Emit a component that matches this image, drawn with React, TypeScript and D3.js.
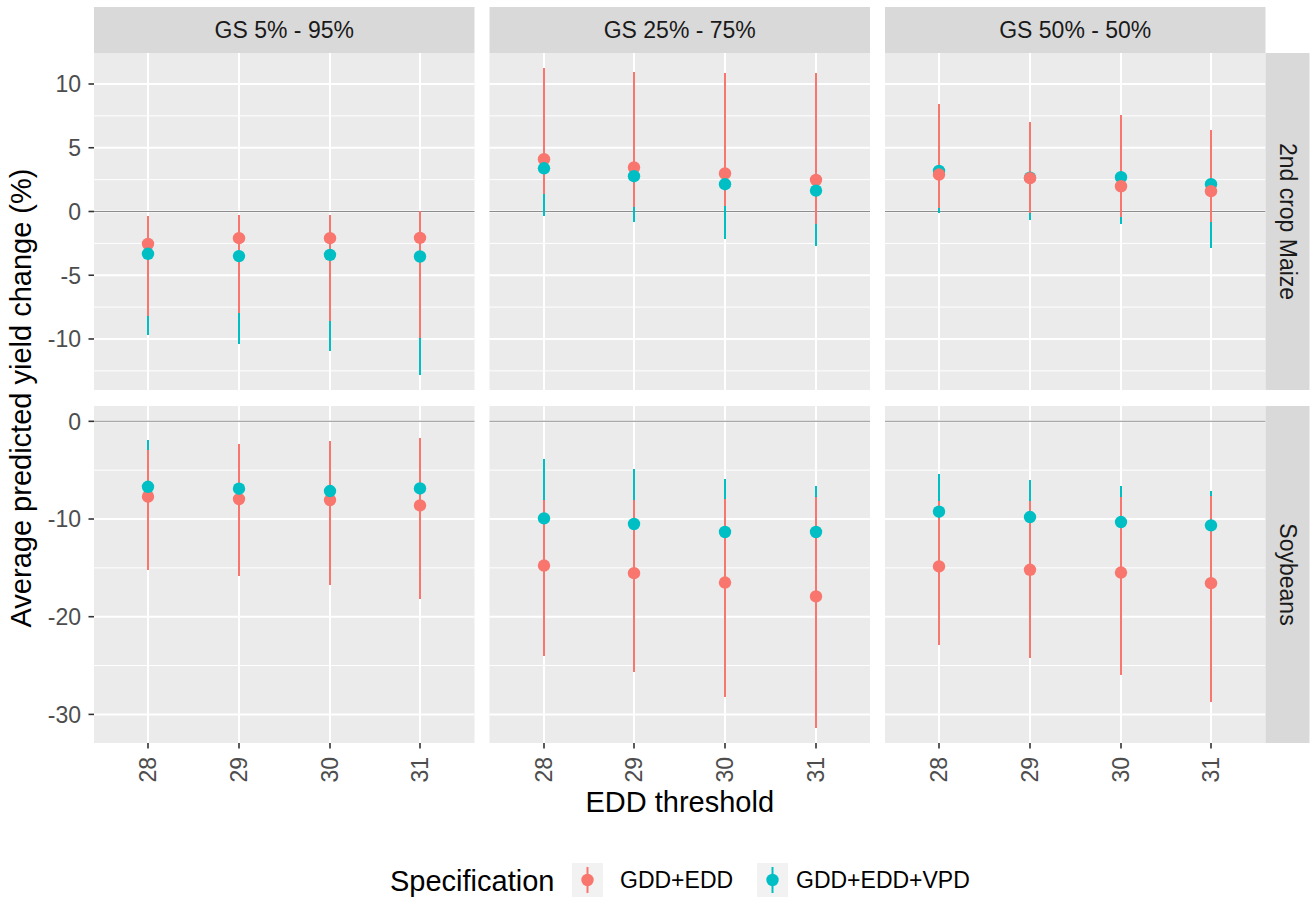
import React from "react";
import * as d3 from "d3";

// ---------- data ----------
const gsLevels = ["GS 5% - 95%", "GS 25% - 75%", "GS 50% - 50%"];
const crops = ["2nd crop Maize", "Soybeans"];
const thresholds = ["28", "29", "30", "31"];
const specs = ["GDD+EDD", "GDD+EDD+VPD"];
const specColors = ["#F8766D", "#00BFC4"];

// each: rows = GS levels, cols = thresholds
const maizeEddEst = [[-2.54, -2.09, -2.09, -2.07], [4.1, 3.45, 2.98, 2.48], [2.9, 2.61, 1.98, 1.59]];
const maizeEddLo = [[-8.18, -7.97, -8.57, -9.96], [1.36, 0.36, 0.4, -1.0], [0.31, -0.08, -0.47, -0.79]];
const maizeEddHi = [[-0.34, -0.27, -0.27, 0.0], [11.23, 10.97, 10.89, 10.89], [8.46, 7.05, 7.57, 6.37]];

const maizeVpdEst = [[-3.32, -3.5, -3.4, -3.53], [3.39, 2.77, 2.14, 1.64], [3.18, 2.65, 2.69, 2.14]];
const maizeVpdLo = [[-9.69, -10.37, -10.92, -12.8], [-0.34, -0.79, -2.12, -2.69], [-0.08, -0.68, -1.0, -2.88]];
const maizeVpdHi = [[-0.5, -0.5, -0.5, -0.3], [9.0, 8.5, 8.0, 7.5], [7.5, 6.5, 7.0, 6.0]];

const soyEddEst = [[-7.72, -7.96, -8.06, -8.61], [-14.76, -15.54, -16.5, -17.93], [-14.86, -15.2, -15.48, -16.57]];
const soyEddLo = [[-15.2, -15.88, -16.73, -18.2], [-24.05, -25.68, -28.2, -31.36], [-22.86, -24.22, -25.92, -28.74]];
const soyEddHi = [[-2.96, -2.28, -2.01, -1.7], [-8.06, -8.06, -7.99, -7.72], [-8.16, -8.16, -7.72, -7.65]];

const soyVpdEst = [[-6.7, -6.9, -7.14, -6.87], [-9.93, -10.51, -11.33, -11.33], [-9.25, -9.8, -10.31, -10.65]];
const soyVpdLo = [[-11.5, -11.8, -12.3, -12.0], [-16.0, -16.8, -17.5, -17.0], [-13.1, -13.6, -14.0, -14.2]];
const soyVpdHi = [[-1.94, -2.5, -2.4, -2.0], [-3.81, -4.9, -5.92, -6.6], [-5.41, -6.02, -6.67, -7.14]];

const yTicksMaize = [-10, -5, 0, 5, 10];
const yTicksSoy = [-30, -20, -10, 0];

// which specification's points are drawn last in each GS column
const pointOnTop = ["GDD+EDD+VPD", "GDD+EDD+VPD", "GDD+EDD"];

const tables = [
  [
    { est: maizeEddEst, lo: maizeEddLo, hi: maizeEddHi },
    { est: maizeVpdEst, lo: maizeVpdLo, hi: maizeVpdHi },
  ],
  [
    { est: soyEddEst, lo: soyEddLo, hi: soyEddHi },
    { est: soyVpdEst, lo: soyVpdLo, hi: soyVpdHi },
  ],
];
const yTicks = [yTicksMaize, yTicksSoy];

// ---------- layout ----------
const W = 1313;
const H = 897;
const FONT = "'Liberation Sans', Arial, sans-serif";
const panelLeft = 94;
const panelW = 380.5;
const panelGapX = 15;
const panelTop = 53;
const panelH = 337;
const panelGapY = 16;
const stripTop = 7;
const stripRightW = 44;

function rowDomain(r: number): [number, number] {
  const all: number[] = [0];
  tables[r].forEach((t) => {
    [t.lo, t.hi, t.est].forEach((m) => m.forEach((row) => row.forEach((v) => all.push(v))));
  });
  const mn = d3.min(all)!;
  const mx = d3.max(all)!;
  const pad = (mx - mn) * 0.05;
  return [mn - pad, mx + pad];
}

export default function App() {
  const xInner = d3
    .scalePoint<string>()
    .domain(thresholds)
    .range([0, panelW])
    .padding(0.6);

  const yScales = [0, 1].map((r) => {
    const top = panelTop + r * (panelH + panelGapY);
    return d3.scaleLinear().domain(rowDomain(r)).range([top + panelH, top]);
  });

  const panels: React.ReactNode[] = [];

  crops.forEach((crop, r) => {
    const y = yScales[r];
    const top = panelTop + r * (panelH + panelGapY);
    const ticks = yTicks[r];
    const [d0, d1] = y.domain();
    const minors: number[] = [];
    const step = ticks[1] - ticks[0];
    for (let v = ticks[0] - step / 2; v <= d1; v += step) {
      if (v >= d0 && v <= d1 && !ticks.includes(v)) minors.push(v);
    }
    gsLevels.forEach((gs, c) => {
      const left = panelLeft + c * (panelW + panelGapX);
      const x = (t: string) => left + (xInner(t) as number);
      const xr = (t: string) => Math.round(x(t));
      const order = pointOnTop[c] === specs[0] ? [1, 0] : [0, 1];
      panels.push(
        <g key={`p-${r}-${c}`}>
          <rect x={left} y={top} width={panelW} height={panelH} fill="#EBEBEB" />
          {minors.map((v) => (
            <line key={`mi${v}`} x1={left} x2={left + panelW} y1={y(v)} y2={y(v)} stroke="#fff" strokeWidth={1} />
          ))}
          {ticks.map((v) => (
            <line key={`ma${v}`} x1={left} x2={left + panelW} y1={y(v)} y2={y(v)} stroke="#fff" strokeWidth={2} />
          ))}
          {thresholds.map((t) => (
            <line key={`vx${t}`} x1={xr(t)} x2={xr(t)} y1={top} y2={top + panelH} stroke="#fff" strokeWidth={2} />
          ))}
          <line x1={left} x2={left + panelW} y1={y(0)} y2={y(0)} stroke="#8C8C8C" strokeWidth={1.1} />
          {[1, 0].map((s) =>
            thresholds.map((t, i) => (
              <line
                key={`l${s}${t}`}
                x1={xr(t)}
                x2={xr(t)}
                y1={y(tables[r][s].lo[c][i])}
                y2={y(tables[r][s].hi[c][i])}
                stroke={specColors[s]}
                strokeWidth={2}
                shapeRendering="crispEdges"
              />
            ))
          )}
          {order.map((s) =>
            thresholds.map((t, i) => (
              <circle
                key={`c${s}${t}`}
                cx={xr(t)}
                cy={y(tables[r][s].est[c][i])}
                r={6.2}
                fill={specColors[s]}
              />
            ))
          )}
        </g>
      );
    });
    // y axis
    panels.push(
      <g key={`ya-${r}`}>
        {ticks.map((v) => (
          <g key={v}>
            <line x1={panelLeft - 5.5} x2={panelLeft} y1={y(v)} y2={y(v)} stroke="#333" strokeWidth={1.6} />
            <text
              x={panelLeft - 13}
              y={y(v)}
              dy="0.36em"
              textAnchor="end"
              fontSize={23}
              fill="#4D4D4D"
              fontFamily={FONT}
            >
              {v}
            </text>
          </g>
        ))}
      </g>
    );
    // right strip
    const sx = panelLeft + 3 * panelW + 2 * panelGapX;
    panels.push(
      <g key={`rs-${r}`}>
        <rect x={sx} y={top} width={stripRightW} height={panelH} fill="#D9D9D9" />
        <text
          transform={`translate(${sx + 14.5},${top + panelH / 2}) rotate(90)`}
          textAnchor="middle"
          fontSize={23}
          fill="#1A1A1A"
          fontFamily={FONT}
        >
          {crop}
        </text>
      </g>
    );
  });

  // top strips + x axes
  const bottom = panelTop + 2 * panelH + panelGapY;
  gsLevels.forEach((gs, c) => {
    const left = panelLeft + c * (panelW + panelGapX);
    panels.push(
      <g key={`ts-${c}`}>
        <rect x={left} y={stripTop} width={panelW} height={panelTop - stripTop} fill="#D9D9D9" />
        <text
          x={left + panelW / 2}
          y={38}
          textAnchor="middle"
          fontSize={23}
          fill="#1A1A1A"
          fontFamily={FONT}
        >
          {gs}
        </text>
        {thresholds.map((t) => {
          const xx = Math.round(left + (xInner(t) as number));
          return (
            <g key={t}>
              <line x1={xx} x2={xx} y1={bottom} y2={bottom + 5.5} stroke="#333" strokeWidth={1.6} />
              <text
                transform={`translate(${xx},${bottom + 14}) rotate(-90)`}
                dy="0.36em"
                textAnchor="end"
                fontSize={23}
                fill="#4D4D4D"
                fontFamily={FONT}
              >
                {t}
              </text>
            </g>
          );
        })}
      </g>
    );
  });

  const panelsRight = panelLeft + 3 * panelW + 2 * panelGapX;

  // legend
  const legendY = 880;
  const keyW = 31;
  const keyH = 34;
  const legendItems = [
    { key: 572, text: 620 },
    { key: 757, text: 796 },
  ];

  return (
    <svg
      width={W}
      height={H}
      style={{ position: "absolute", left: 0, top: 0, display: "block", background: "#fff" }}
      fontFamily={FONT}
    >
      <rect x={0} y={0} width={W} height={H} fill="#fff" />
      {panels}
      <text
        transform={`translate(31,${(panelTop + bottom) / 2}) rotate(-90)`}
        textAnchor="middle"
        fontSize={29}
        fill="#000"
      >
        Average predicted yield change (%)
      </text>
      <text x={(panelLeft + panelsRight) / 2} y={812} textAnchor="middle" fontSize={29} fill="#000">
        EDD threshold
      </text>
      <text x={390} y={legendY + 10.5} fontSize={29} fill="#000">
        Specification
      </text>
      {specs.map((s, i) => (
        <g key={s}>
          <rect x={legendItems[i].key} y={legendY - keyH / 2} width={keyW} height={keyH} fill="#F2F2F2" />
          <line
            x1={legendItems[i].key + keyW / 2}
            x2={legendItems[i].key + keyW / 2}
            y1={legendY - 13}
            y2={legendY + 13}
            stroke={specColors[i]}
            strokeWidth={2}
          />
          <circle cx={legendItems[i].key + keyW / 2} cy={legendY} r={6.2} fill={specColors[i]} />
          <text x={legendItems[i].text} y={legendY + 8.3} fontSize={23} fill="#000">
            {s}
          </text>
        </g>
      ))}
    </svg>
  );
}
